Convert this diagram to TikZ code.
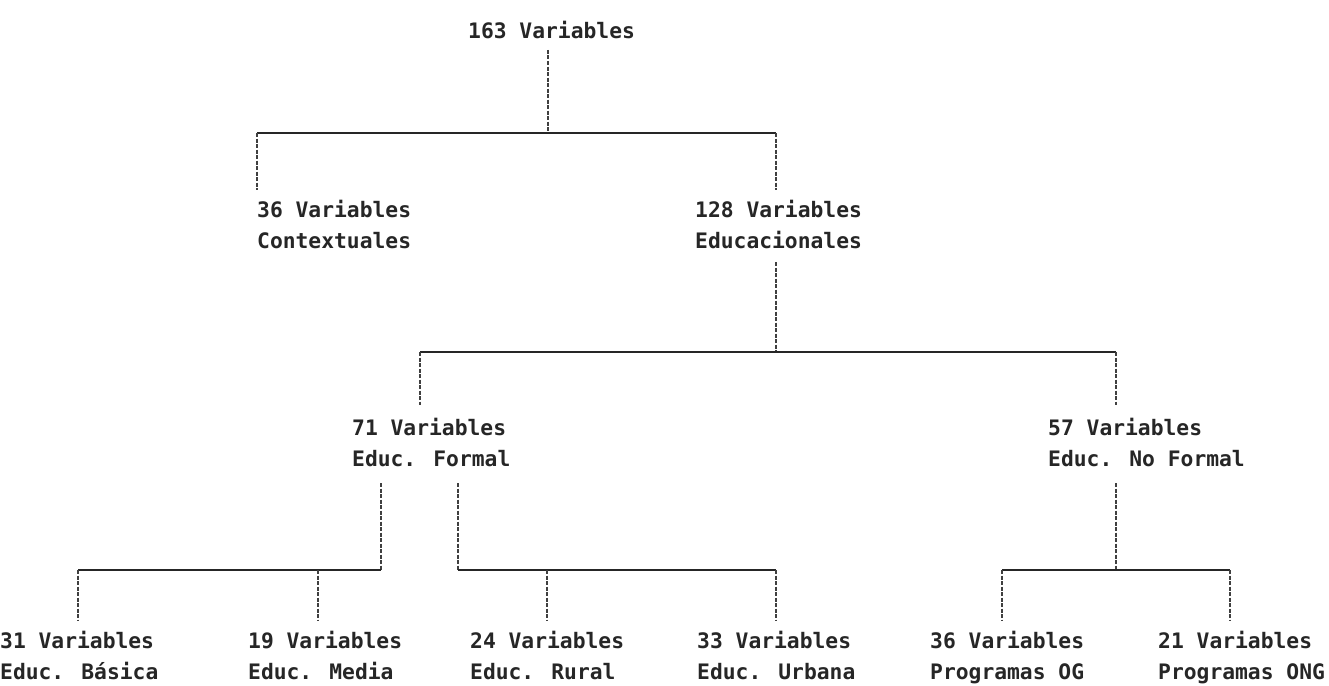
\documentclass[tikz,border=0pt]{standalone}
\usepackage{fontspec}
\setmainfont{DejaVu Sans Mono}
\begin{document}
\begin{tikzpicture}[x=1pt,y=-1pt,
  lbl/.style={anchor=west,align=left,inner sep=0pt,text=black!85,font=\fontsize{21.3}{31}\selectfont\bfseries},
  hline/.style={draw=black!85,line width=2.8pt},
  vline/.style={draw=black!75,line width=1.4pt,dash pattern=on 4pt off 1.5pt}]
\useasboundingbox[fill=white] (0,0) rectangle (1329,685);
% nodes
\node[lbl] (root) at (468,30) {163 Variables};
\node[lbl] (ctx) at (257,224) {36 Variables\\Contextuales};
\node[lbl] (edu) at (695,224) {128 Variables\\Educacionales};
\node[lbl] (for) at (352,442) {71 Variables\\Educ. Formal};
\node[lbl] (nof) at (1048,442) {57 Variables\\Educ. No Formal};
\node[lbl] (bas) at (0,655) {31 Variables\\Educ. Básica};
\node[lbl] (med) at (248,655) {19 Variables\\Educ. Media};
\node[lbl] (rur) at (470,655) {24 Variables\\Educ. Rural};
\node[lbl] (urb) at (697,655) {33 Variables\\Educ. Urbana};
\node[lbl] (og) at (930,657.5) {36 Variables\\Programas OG};
\node[lbl] (ong) at (1158,657.5) {21 Variables\\Programas ONG};
% junction coordinates
\coordinate (rootout) at (548,50);
\coordinate (j1) at (548,133);
\coordinate (ctxin) at (257,190);
\coordinate (eduin) at (776,190);
\coordinate (eduout) at (776,262);
\coordinate (j2) at (776,352);
\coordinate (forin) at (420,405);
\coordinate (nofin) at (1116,405);
\coordinate (forL) at (381,483);
\coordinate (forR) at (458,483);
\coordinate (nofout) at (1116,483);
\coordinate (j3L) at (381,570);
\coordinate (j3R) at (458,570);
\coordinate (j3N) at (1116,570);
\coordinate (basin) at (78,620);
\coordinate (medin) at (318,620);
\coordinate (rurin) at (547,620);
\coordinate (urbin) at (776,620);
\coordinate (ogin) at (1002,620);
\coordinate (ongin) at (1230,620);
% level 1
\draw[vline] (rootout) -- (j1);
\draw[hline] (ctxin |- j1) -- (eduin |- j1);
\draw[vline] (ctxin |- j1) -- (ctxin);
\draw[vline] (eduin |- j1) -- (eduin);
% level 2
\draw[vline] (eduout) -- (j2);
\draw[hline] (forin |- j2) -- (nofin |- j2);
\draw[vline] (forin |- j2) -- (forin);
\draw[vline] (nofin |- j2) -- (nofin);
% level 3 - formal left
\draw[vline] (forL) -- (j3L);
\draw[hline] (basin |- j3L) -- (j3L);
\draw[vline] (basin |- j3L) -- (basin);
\draw[vline] (medin |- j3L) -- (medin);
% formal right
\draw[vline] (forR) -- (j3R);
\draw[hline] (j3R) -- (urbin |- j3R);
\draw[vline] (rurin |- j3R) -- (rurin);
\draw[vline] (urbin |- j3R) -- (urbin);
% no formal
\draw[vline] (nofout) -- (j3N);
\draw[hline] (ogin |- j3N) -- (ongin |- j3N);
\draw[vline] (ogin |- j3N) -- (ogin);
\draw[vline] (ongin |- j3N) -- (ongin);
\end{tikzpicture}
\end{document}
